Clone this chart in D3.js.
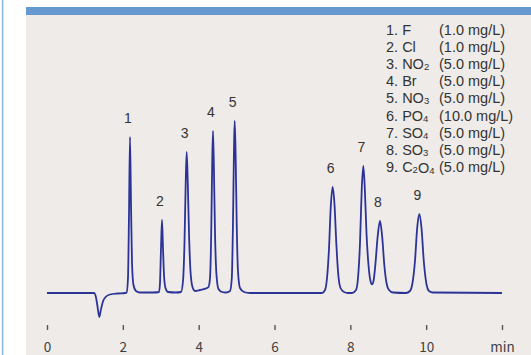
<!DOCTYPE html>
<html>
<head>
<meta charset="utf-8">
<script src="https://cdn.jsdelivr.net/npm/d3@7/dist/d3.min.js"></script>
<style>
  html, body { margin: 0; padding: 0; background: #ffffff; }
  svg { display: block; }
</style>
</head>
<body>
<svg id="chart" width="531" height="355"></svg>
<script>
// Anion chromatogram: retention time (min) and detector response (arbitrary units)
const retentionTime = [
  0, 1.00, 1.24, 1.29, 1.33, 1.38, 1.42, 1.48, 1.56, 1.66, 1.87, 2.06,
  2.10, 2.136, 2.163, 2.189, 2.215, 2.242, 2.281, 2.347, 2.45, 2.80,
  2.954, 2.980, 3.007, 3.033, 3.059, 3.086, 3.125, 3.19, 3.40,
  3.534, 3.587, 3.626, 3.658, 3.684, 3.713, 3.745, 3.784, 3.837, 3.903, 4.035, 4.220,
  4.259, 4.299, 4.331, 4.357, 4.378, 4.404, 4.431, 4.470, 4.523, 4.615,
  4.721, 4.827, 4.874, 4.905, 4.932, 4.950, 4.974, 5.003, 5.037, 5.090, 5.195, 5.354,
  6.70, 7.253, 7.332, 7.385, 7.438, 7.482, 7.535, 7.583, 7.630, 7.683, 7.741, 7.833, 7.938,
  8.044, 8.150, 8.202, 8.255, 8.302, 8.342, 8.381, 8.426, 8.479, 8.531, 8.571,
  8.611, 8.664, 8.717, 8.782, 8.843, 8.896, 8.954, 9.020, 9.125,
  9.468, 9.573, 9.639, 9.705, 9.763, 9.819, 9.877, 9.937, 10.003, 10.074, 10.180, 12.0
];
const response = [
  0, 0, 0, -4, -13, -24, -17, -8, -3.5, -1.5, -0.5, 0,
  0.5, 15, 80, 156, 90, 30, 8, 2, 0.5, 0.5,
  1, 10, 45, 73, 45, 18, 5, 1, 0.5,
  1, 12, 50, 110, 141, 110, 60, 22, 6, 2, 3, 5,
  6, 15, 60, 130, 162, 120, 60, 18, 4, 1,
  0.5, 2, 15, 70, 145, 172, 140, 70, 22, 5, 1, 0,
  0, 0, 3, 15, 45, 85, 106, 88, 50, 18, 5, 1, 0,
  0, 3, 15, 50, 105, 127, 105, 60, 28, 12, 8.7,
  12, 30, 55, 72, 55, 28, 10, 3, 0.5,
  0, 2, 10, 32, 65, 79, 65, 32, 10, 2, 0.5, 0
];

// Peak numbering and retention times
const peakNumbers = [1, 2, 3, 4, 5, 6, 7, 8, 9];
const peakTimes = [2.19, 3.03, 3.68, 4.38, 4.95, 7.54, 8.34, 8.78, 9.82];

// Legend: ions and their concentrations
const ionNames = ["F", "Cl", "NO2", "Br", "NO3", "PO4", "SO4", "SO3", "C2O4"];
const concentrations = ["1.0", "1.0", "5.0", "5.0", "5.0", "10.0", "5.0", "5.0", "5.0"];

// Time axis ticks; the last position carries the unit
const tickValues = [0, 2, 4, 6, 8, 10, 12];
const tickLabels = ["0", "2", "4", "6", "8", "10", "min"];

const svg = d3.select("#chart");
const W = 531, H = 355;

// Frame: left rule, header band and panel
svg.append("rect").attr("x", 0).attr("y", 0).attr("width", W).attr("height", H).attr("fill", "#ffffff");
svg.append("rect").attr("x", 1.8).attr("y", 0).attr("width", 1.6).attr("height", H).attr("fill", "#8db6e2");
svg.append("rect").attr("x", 26).attr("y", 15).attr("width", W - 26).attr("height", H - 15).attr("fill", "#efebe8");
svg.append("rect").attr("x", 26).attr("y", 7).attr("width", W - 26).attr("height", 8).attr("fill", "#6699cf");

const x = d3.scaleLinear().domain([0, 12]).range([47, 502]);
const y = d3.scaleLinear().domain([-30, 180]).range([323, 113]);

const points = retentionTime.map((t, i) => [t, response[i]]);

const line = d3.line()
  .x(d => x(d[0]))
  .y(d => y(d[1]))
  .curve(d3.curveMonotoneX);

svg.append("path")
  .datum(points)
  .attr("d", line)
  .attr("fill", "none")
  .attr("stroke", "#2c3397")
  .attr("stroke-width", 1.8)
  .attr("stroke-linejoin", "round");

// Peak numbers above each apex
const textColor = "#333333";
const labelFont = "'Liberation Sans', Arial, sans-serif";
peakNumbers.forEach((n, i) => {
  const near = points.filter(p => Math.abs(p[0] - peakTimes[i]) < 0.06);
  const apex = near.reduce((a, b) => (b[1] > a[1] ? b : a));
  svg.append("text")
    .attr("x", x(apex[0]) - 2)
    .attr("y", y(apex[1]) - 14)
    .attr("text-anchor", "middle")
    .attr("font-family", labelFont)
    .attr("font-size", 14)
    .attr("fill", textColor)
    .text(n);
});

// Legend with subscripted digits in the formulas
const legend = svg.append("g").attr("font-family", labelFont).attr("font-size", 14.5).attr("fill", textColor);
ionNames.forEach((name, i) => {
  const baseY = 35 + i * 17.1;
  const t = legend.append("text").attr("x", 386).attr("y", baseY);
  t.append("tspan").text((i + 1) + ". ");
  const parts = name.match(/[A-Za-z]+|\d+/g);
  parts.forEach(part => {
    if (/\d/.test(part)) {
      t.append("tspan").attr("font-size", 9.5).attr("dy", 1).text(part);
      t.append("tspan").attr("dy", -1).text("");
    } else {
      t.append("tspan").text(part);
    }
  });
  legend.append("text").attr("x", 439).attr("y", baseY)
    .text("(" + concentrations[i] + " mg/L)");
});

// Time axis: short ticks, no domain line
const axis = d3.axisBottom(x)
  .tickValues(tickValues)
  .tickSize(5)
  .tickFormat((d, i) => tickLabels[i]);

const gAxis = svg.append("g").attr("transform", "translate(0,325)").call(axis);
gAxis.select(".domain").remove();
gAxis.selectAll(".tick line").attr("stroke", "#555555").attr("stroke-width", 1.4);
gAxis.selectAll(".tick text")
  .attr("y", 27)
  .attr("dy", 0)
  .attr("fill", "#3f3f3f")
  .attr("font-family", "'Noto Sans CJK JP', 'Noto Sans', sans-serif")
  .attr("font-size", 13.5);
</script>
</body>
</html>
